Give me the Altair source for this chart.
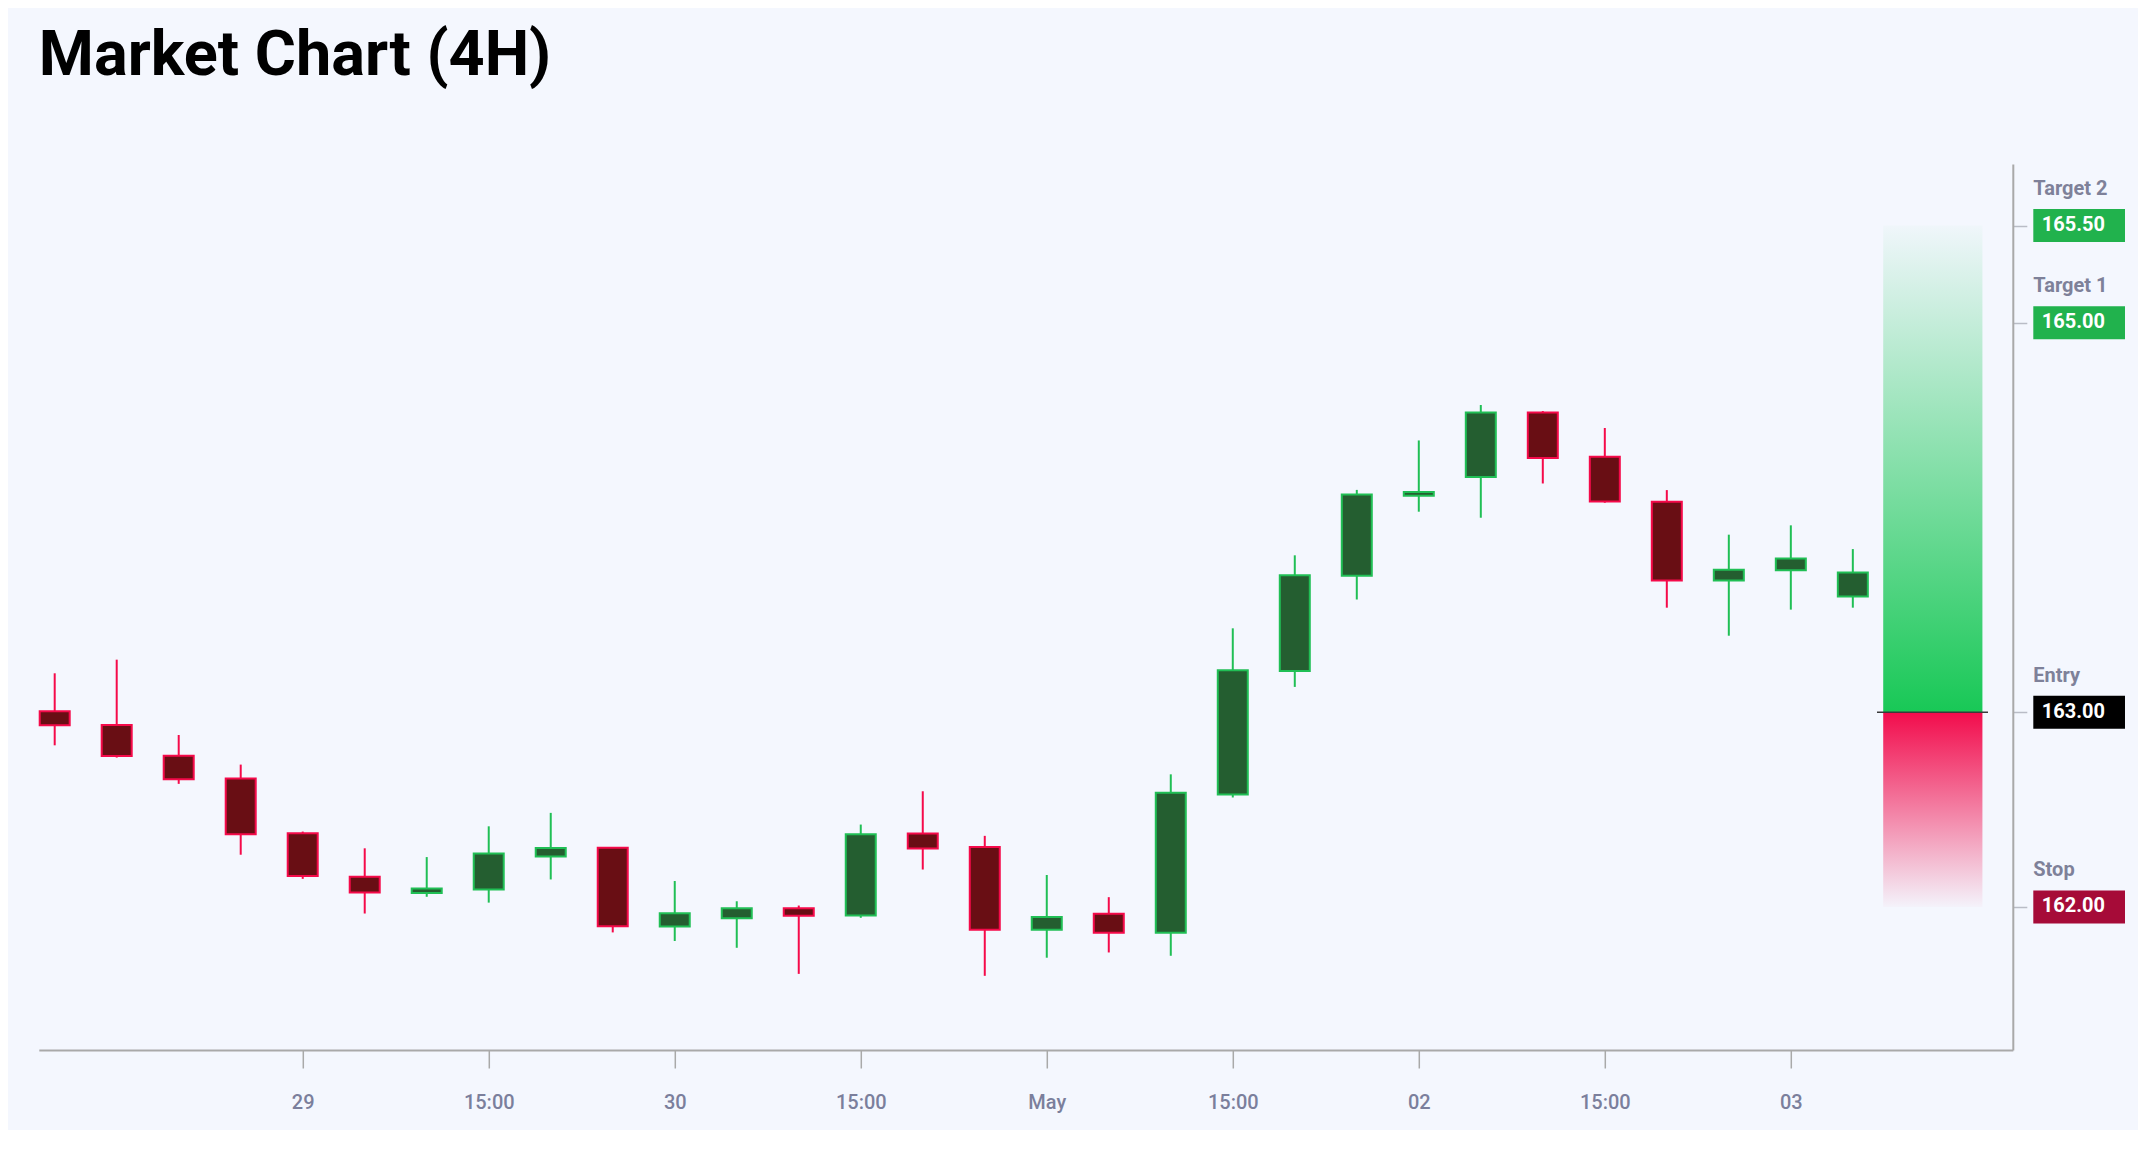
import altair as alt
import pandas as pd

# ---------------- data ----------------
idx = list(range(30))
opens = [163.005, 162.935, 162.776, 162.659, 162.378, 162.155, 162.072, 162.089, 162.259, 162.304,
         161.899, 161.942, 161.993, 161.956, 162.377, 162.308, 161.883, 161.965, 161.867, 162.578,
         163.212, 163.701, 164.112, 164.208, 164.540, 164.312, 164.081, 163.676, 163.729, 163.595]
closes = [162.933, 162.775, 162.656, 162.373, 162.159, 162.074, 162.094, 162.274, 162.303, 161.901,
          161.967, 161.993, 161.954, 162.373, 162.300, 161.883, 161.948, 161.867, 162.586, 163.216,
          163.703, 164.119, 164.131, 164.540, 164.306, 164.083, 163.677, 163.732, 163.789, 163.718]
highs = [163.200, 163.270, 162.883, 162.731, 162.387, 162.301, 162.256, 162.414, 162.483, 162.304,
         162.133, 162.029, 162.007, 162.423, 162.594, 162.365, 162.164, 162.050, 162.681, 163.431,
         163.806, 164.142, 164.396, 164.578, 164.547, 164.460, 164.141, 163.912, 163.960, 163.838]
lows = [162.830, 162.767, 162.632, 162.268, 162.144, 161.966, 162.052, 162.022, 162.141, 161.869,
        161.825, 161.790, 161.656, 161.944, 162.192, 161.646, 161.739, 161.766, 161.749, 162.562,
        163.130, 163.579, 164.030, 163.999, 164.175, 164.076, 163.537, 163.393, 163.527, 163.537]

tick_idx = [4, 7, 10, 13, 16, 19, 22, 25, 28]
tick_text = ["29", "15:00", "30", "15:00", "May", "15:00", "02", "15:00", "03"]

level_names = ["Target 2", "Target 1", "Entry", "Stop"]
level_prices = [165.5, 165.0, 163.0, 162.0]
level_colors = ["#21b24d", "#21b24d", "#000000", "#a60b38"]

entry_price = 163.0
target_price = 165.5
stop_price = 162.0
zone_x = [29.49, 31.09]
entry_line_x = [29.39, 31.18]

x_domain = [-0.2565, 31.58]
y_domain = [161.265, 165.816]

# ---------------- styling ----------------
BG = "#f4f7fe"
UP_LINE, UP_FILL = "#20bf55", "#245e30"
DN_LINE, DN_FILL = "#f50a4a", "#690e14"
AXIS_GRAY = "#a9a9a9"
LABEL_GRAY = "#7b7f9c"

candles = pd.DataFrame({"i": idx, "open": opens, "close": closes, "high": highs, "low": lows})
candles["dir"] = ["up" if c >= o else "down" for o, c in zip(opens, closes)]

levels = pd.DataFrame({"name": level_names, "price": level_prices, "color": level_colors})
zone_up = pd.DataFrame({"x0": [zone_x[0]], "x1": [zone_x[1]], "y0": [entry_price], "y1": [target_price]})
zone_dn = pd.DataFrame({"x0": [zone_x[0]], "x1": [zone_x[1]], "y0": [stop_price], "y1": [entry_price]})
entry_df = pd.DataFrame({"x0": [entry_line_x[0]], "x1": [entry_line_x[1]], "y": [entry_price]})

tick_idx_js = "[" + ",".join(str(v) for v in tick_idx) + "]"
tick_text_js = "[" + ",".join("'" + t + "'" for t in tick_text) + "]"
label_expr = tick_text_js + "[indexof(" + tick_idx_js + ", datum.value)]"

x_axis = alt.Axis(values=tick_idx, labelExpr=label_expr, title=None, grid=False,
                  domainColor=AXIS_GRAY, domainWidth=2, tickColor=AXIS_GRAY, tickWidth=1.5,
                  tickSize=18, labelPadding=25, labelFontSize=20, labelColor=LABEL_GRAY,
                  labelFont="Roboto", labelFontWeight=500, labelFlush=False, labelOverlap=False)
y_axis = alt.Axis(orient="right", values=level_prices, labels=False, title=None, grid=False,
                  domainColor=AXIS_GRAY, domainWidth=2, tickColor="#b9bcc6", tickWidth=1.5,
                  tickSize=14)

x_scale = alt.Scale(domain=x_domain, nice=False, zero=False, padding=0)
y_scale = alt.Scale(domain=y_domain, nice=False, zero=False, padding=0)


def X(field):
    return alt.X(field + ":Q", scale=x_scale, axis=x_axis)


def Y(field):
    return alt.Y(field + ":Q", scale=y_scale, axis=y_axis)


line_scale = alt.Scale(domain=["up", "down"], range=[UP_LINE, DN_LINE])
fill_scale = alt.Scale(domain=["up", "down"], range=[UP_FILL, DN_FILL])

wicks = alt.Chart(candles).mark_rule(strokeWidth=2).encode(
    x=X("i"), y=Y("low"), y2="high",
    stroke=alt.Stroke("dir:N", scale=line_scale, legend=None))

bodies = alt.Chart(candles).mark_bar(width=30, strokeWidth=2).encode(
    x=X("i"), y=Y("open"), y2="close",
    fill=alt.Fill("dir:N", scale=fill_scale, legend=None),
    stroke=alt.Stroke("dir:N", scale=line_scale, legend=None))

green_grad = alt.Gradient(gradient="linear", x1=0, y1=0, x2=0, y2=1, stops=[
    alt.GradientStop(color="rgba(24,200,86,0.02)", offset=0),
    alt.GradientStop(color="rgba(24,200,86,1)", offset=1)])
red_grad = alt.Gradient(gradient="linear", x1=0, y1=0, x2=0, y2=1, stops=[
    alt.GradientStop(color="rgba(242,12,76,1)", offset=0),
    alt.GradientStop(color="rgba(242,12,76,0.02)", offset=1)])

zone_green = alt.Chart(zone_up).mark_rect(color=green_grad).encode(
    x=X("x0"), x2="x1", y=Y("y0"), y2="y1")
zone_red = alt.Chart(zone_dn).mark_rect(color=red_grad).encode(
    x=X("x0"), x2="x1", y=Y("y0"), y2="y1")

entry_rule = alt.Chart(entry_df).mark_rule(color="#3a3a3a", strokeWidth=1.5).encode(
    x=X("x0"), x2="x1", y=Y("y"))

boxes = alt.Chart(levels).mark_rect(yOffset=-16.5, y2Offset=16.5).encode(
    x=alt.value(1994.5), x2=alt.value(2086.2), y=Y("price"), y2="price",
    fill=alt.Fill("color:N", scale=None))

values_txt = alt.Chart(levels).mark_text(
    align="left", baseline="alphabetic", dy=5.5, fontSize=20, fontWeight="bold",
    color="white", font="Roboto").encode(
    x=alt.value(2003), y=Y("price"), text=alt.Text("price:Q", format=".2f"))

names_txt = alt.Chart(levels).mark_text(
    align="left", baseline="alphabetic", dy=-30.5, fontSize=20, fontWeight="bold",
    color="#7e8199", font="Roboto").encode(
    x=alt.value(1994.5), y=Y("price"), text="name:N")

chart = alt.layer(
    zone_green, zone_red, entry_rule, wicks, bodies, boxes, values_txt, names_txt
).properties(
    width=1974, height=886,
    padding={"left": 30.8, "top": 156, "right": 125, "bottom": 80},
    autosize=alt.AutoSizeParams(type="none"),
    title=alt.TitleParams("Market Chart (4H)", anchor="start", frame="group", fontSize=63,
                          font="Roboto", fontWeight="bold", color="#000000",
                          baseline="alphabetic", offset=26),
).configure(background=BG, font="Roboto").configure_view(stroke=None)

chart.save("out.html", embed_options={"renderer": "svg", "actions": False})
